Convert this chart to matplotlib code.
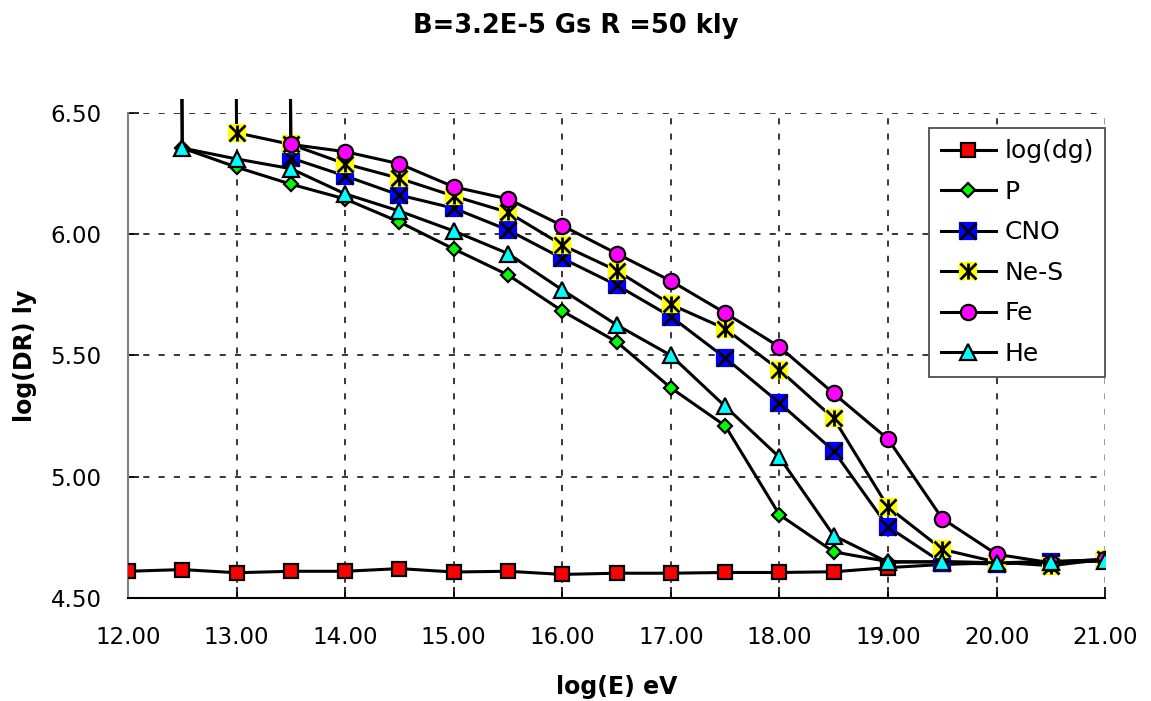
import numpy as np
import matplotlib
matplotlib.use("Agg")
import matplotlib.pyplot as plt
from matplotlib.lines import Line2D
from matplotlib.legend_handler import HandlerTuple
from matplotlib.transforms import Bbox, TransformedBbox

# ---------------- data ----------------
log_E = [12.0, 12.5, 13.0, 13.5, 14.0, 14.5, 15.0, 15.5, 16.0, 16.5,
         17.0, 17.5, 18.0, 18.5, 19.0, 19.5, 20.0, 20.5, 21.0]

# off-scale values (far above the axis) are given as 40.0
log_dg = [4.610, 4.617, 4.604, 4.610, 4.610, 4.621, 4.607, 4.610, 4.597, 4.602,
          4.602, 4.605, 4.605, 4.608, 4.625, 4.638, 4.645, 4.650, 4.655]
P      = [40.0, 6.355, 6.276, 6.206, 6.145, 6.050, 5.939, 5.832, 5.683, 5.556,
          5.366, 5.210, 4.843, 4.690, 4.650, 4.648, 4.645, 4.648, 4.655]
CNO    = [40.0, 40.0, 40.0, 6.314, 6.240, 6.161, 6.107, 6.017, 5.900, 5.790,
          5.660, 5.490, 5.304, 5.106, 4.793, 4.645, 4.640, 4.650, 4.658]
NeS    = [40.0, 40.0, 6.418, 6.370, 6.290, 6.230, 6.157, 6.090, 5.955, 5.850,
          5.710, 5.610, 5.440, 5.240, 4.875, 4.700, 4.648, 4.633, 4.660]
Fe     = [40.0, 40.0, 40.0, 6.370, 6.340, 6.290, 6.195, 6.145, 6.035, 5.920,
          5.807, 5.675, 5.535, 5.343, 5.155, 4.827, 4.680, 4.645, 4.660]
He     = [40.0, 6.355, 6.310, 6.270, 6.166, 6.095, 6.013, 5.920, 5.770, 5.626,
          5.500, 5.290, 5.080, 4.757, 4.647, 4.650, 4.645, 4.647, 4.652]

x_ticks = [12, 13, 14, 15, 16, 17, 18, 19, 20, 21]
y_ticks = [4.5, 5.0, 5.5, 6.0, 6.5]

title = "B=3.2E-5 Gs R =50 kly"
xlabel = "log(E) eV"
ylabel = "log(DR) ly"

# ---------------- figure ----------------
plt.rcParams['font.family'] = ['DejaVu Sans']
fig = plt.figure(figsize=(11.51, 7.01), dpi=100)
ax = fig.add_axes([0.1112, 0.147, 0.849, 0.692])

ax.set_xlim(12, 21)
ax.set_ylim(4.5, 6.5)

clip = TransformedBbox(Bbox([[0, 0], [1, 1.028]]), ax.transAxes)

LW = 2.2
MEW = 1.6

def add(y, marker, face, ms, edge='black', over=None):
    ln, = ax.plot(log_E, y, color='black', lw=LW, marker=marker, ms=ms,
                  mfc=face, mec=edge, mew=MEW, zorder=3)
    ln.set_clip_box(clip)
    extra = []
    if over:
        for m, oms in over:
            o, = ax.plot(log_E, y, ls='none', marker=m, ms=oms, mec='black',
                         mew=2.0, zorder=3)
            o.set_clip_box(clip)
            extra.append(o)
    return ln, extra

h_dg, _ = add(log_dg, 's', '#ff0000', 10.5)
h_P, _ = add(P, 'D', '#00ff00', 7)
h_CNO, e_CNO = add(CNO, 's', '#0000ff', 11.5, edge='#0000ff', over=[('x', 11)])
h_NeS, e_NeS = add(NeS, 's', '#ffff00', 11.5, edge='#ffff00', over=[('x', 11), ('|', 12)])
h_Fe, _ = add(Fe, 'o', '#ff00ff', 11)
h_He, _ = add(He, '^', '#00ffff', 11)

# axes styling
for s in ['top', 'right']:
    ax.spines[s].set_visible(False)
ax.spines['left'].set_color('#808080')
ax.spines['left'].set_linewidth(1.5)
ax.spines['bottom'].set_color('black')
ax.spines['bottom'].set_linewidth(1.5)

ax.set_xticks(x_ticks)
ax.set_yticks(y_ticks)
ax.set_xticklabels([f"{v:.2f}" for v in x_ticks])
ax.set_yticklabels([f"{v:.2f}" for v in y_ticks])
ax.tick_params(axis='both', direction='in', length=8, width=1.2,
               labelsize=16.5, colors='black')
ax.tick_params(axis='x', pad=20)
ax.tick_params(axis='y', pad=19)

ax.grid(True, color='black', ls=(0, (4, 6)), lw=1.1)
ax.set_axisbelow(True)
for gl in ax.get_ygridlines()[:1]:
    gl.set_visible(False)
for gl in ax.get_xgridlines()[:1]:
    gl.set_visible(False)
ax.get_xgridlines()[-1].set_color('#808080')

ax.set_xlabel(xlabel, fontsize=17, fontweight='bold', labelpad=19)
ax.set_ylabel(ylabel, fontsize=17, fontweight='bold', labelpad=10)
fig.suptitle(title, fontsize=18.5, fontweight='bold', y=0.982)

handles = [h_dg, h_P, (h_CNO, e_CNO[0]), (h_NeS, e_NeS[0], e_NeS[1]), h_Fe, h_He]
labels = ["log(dg)", "P", "CNO", "Ne-S", "Fe", "He"]
leg = ax.legend(handles, labels, loc='upper right',
                bbox_to_anchor=(0.960, 0.8174), bbox_transform=fig.transFigure,
                borderaxespad=0, fontsize=18, fancybox=False, framealpha=1,
                edgecolor='#404040', handlelength=2.2, labelspacing=0.66,
                handletextpad=0.35, borderpad=0.45,
                handler_map={tuple: HandlerTuple(ndivide=1)})
leg.get_frame().set_linewidth(1.2)

fig.savefig("out.png", dpi=100)
